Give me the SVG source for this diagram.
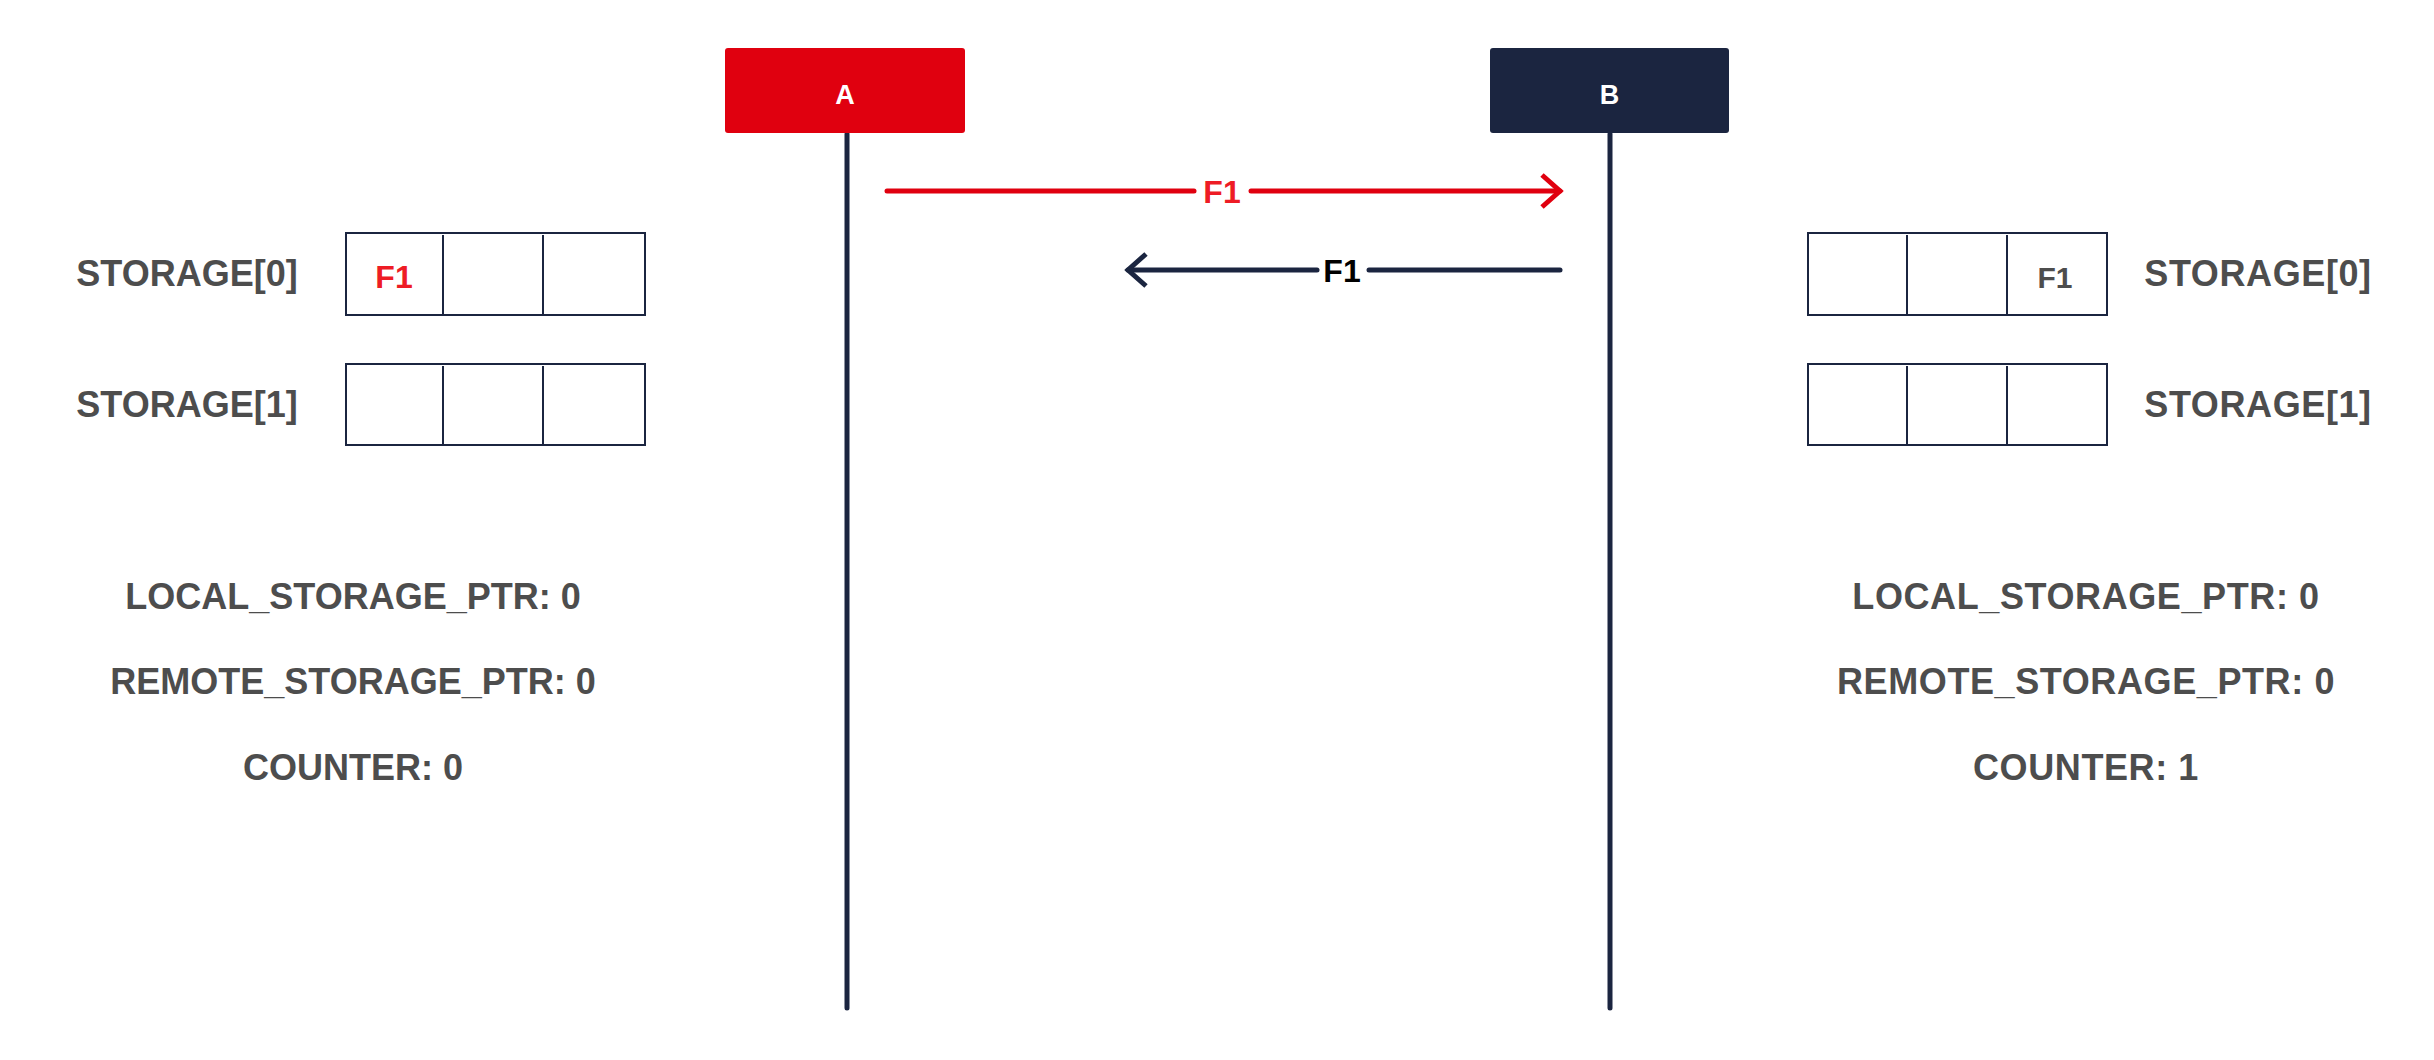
<svg xmlns="http://www.w3.org/2000/svg" width="2434" height="1060" viewBox="0 0 2434 1060">
<style>
  text { font-family: "Liberation Sans", Arial, sans-serif; font-weight: bold; }
  .lbl { font-size: 36px; fill: #4D4D4D; text-anchor: middle; }
  .lblr { font-size: 36px; fill: #4D4D4D; text-anchor: middle; letter-spacing: 0.6px; }
  .head { font-size: 27px; fill: #FFFFFF; text-anchor: middle; }
  .cell { fill: #FFFFFF; stroke: #1B2540; stroke-width: 2; }
  .div { stroke: #1B2540; stroke-width: 2; }
  .life { stroke: #1B2540; stroke-width: 5; stroke-linecap: round; fill: none; }
  .msgR { stroke: #E0000F; stroke-width: 5; stroke-linecap: round; fill: none; }
  .msgN { stroke: #1B2540; stroke-width: 5; stroke-linecap: round; fill: none; }
  .mtxt { font-size: 32px; text-anchor: middle; }
</style>
<defs>
  <marker id="chevR" markerUnits="userSpaceOnUse" viewBox="-24 -20 28 40" refX="0" refY="0" markerWidth="28" markerHeight="40" orient="auto" overflow="visible">
    <path d="M-18,-16 L0,0 L-18,16" fill="none" stroke="#E0000F" stroke-width="5" stroke-linejoin="miter"/>
  </marker>
  <marker id="chevN" markerUnits="userSpaceOnUse" viewBox="-24 -20 28 40" refX="0" refY="0" markerWidth="28" markerHeight="40" orient="auto" overflow="visible">
    <path d="M-18,-16 L0,0 L-18,16" fill="none" stroke="#1B2540" stroke-width="5" stroke-linejoin="miter"/>
  </marker>
</defs>
<rect width="2434" height="1060" fill="#FFFFFF"/>

<g id="connectors">
  <line class="life" x1="847" y1="134" x2="847" y2="1008"/>
  <line class="life" x1="1610" y1="134" x2="1610" y2="1008"/>
  <line class="msgR" x1="887" y1="191" x2="1194" y2="191"/>
  <line class="msgR" x1="1251" y1="191" x2="1560" y2="191" marker-end="url(#chevR)"/>
  <text class="mtxt" x="1222" y="203" fill="#EE1C25">F1</text>
  <line class="msgN" x1="1560" y1="270" x2="1369" y2="270"/>
  <line class="msgN" x1="1317" y1="270" x2="1128" y2="270" marker-end="url(#chevN)"/>
  <text class="mtxt" x="1342" y="282" fill="#000000">F1</text>
</g>

<g id="node-A">
  <rect x="725" y="48" width="240" height="85" rx="3" fill="#E0000F"/>
  <text class="head" x="845" y="104">A</text>
</g>
<g id="node-B">
  <rect x="1490" y="48" width="239" height="85" rx="3" fill="#1B2540"/>
  <text class="head" x="1609.5" y="104">B</text>
</g>

<g id="left-storage0">
  <text class="lbl" x="187" y="286">STORAGE[0]</text>
  <rect class="cell" x="346" y="233" width="299" height="82"/>
  <line class="div" x1="443" y1="235" x2="443" y2="315"/>
  <line class="div" x1="543" y1="235" x2="543" y2="315"/>
  <text x="394" y="288" font-size="32" fill="#EE1C25" text-anchor="middle">F1</text>
</g>
<g id="left-storage1">
  <text class="lbl" x="187" y="417">STORAGE[1]</text>
  <rect class="cell" x="346" y="364" width="299" height="81"/>
  <line class="div" x1="443" y1="366" x2="443" y2="445"/>
  <line class="div" x1="543" y1="366" x2="543" y2="445"/>
</g>
<g id="left-state">
  <text class="lbl" x="353" y="609">LOCAL_STORAGE_PTR: 0</text>
  <text class="lbl" x="353" y="694">REMOTE_STORAGE_PTR: 0</text>
  <text class="lbl" x="353" y="780">COUNTER: 0</text>
</g>

<g id="right-storage0">
  <rect class="cell" x="1808" y="233" width="299" height="82"/>
  <line class="div" x1="1907" y1="235" x2="1907" y2="315"/>
  <line class="div" x1="2007" y1="235" x2="2007" y2="315"/>
  <text x="2055" y="288" font-size="30" fill="#4D4D4D" text-anchor="middle">F1</text>
  <text class="lblr" x="2258" y="286">STORAGE[0]</text>
</g>
<g id="right-storage1">
  <rect class="cell" x="1808" y="364" width="299" height="81"/>
  <line class="div" x1="1907" y1="366" x2="1907" y2="445"/>
  <line class="div" x1="2007" y1="366" x2="2007" y2="445"/>
  <text class="lblr" x="2258" y="417">STORAGE[1]</text>
</g>
<g id="right-state">
  <text class="lblr" x="2086" y="609">LOCAL_STORAGE_PTR: 0</text>
  <text class="lblr" x="2086" y="694">REMOTE_STORAGE_PTR: 0</text>
  <text class="lblr" x="2086" y="780">COUNTER: 1</text>
</g>
</svg>
